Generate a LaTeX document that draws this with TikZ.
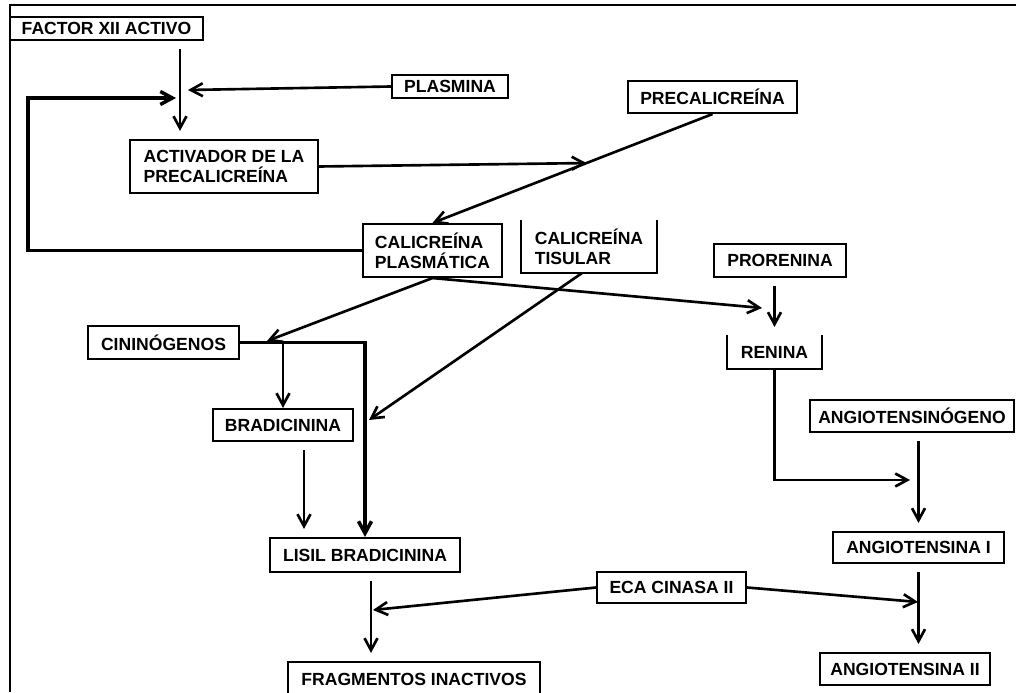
\documentclass[tikz,border=0pt]{standalone}
\usepackage{fontspec}
\setmainfont{Liberation Sans}
\usetikzlibrary{arrows.meta}
\usetikzlibrary{calc}

\tikzset{
        caja/.style={draw, line width=1.2pt, font=\fontsize{10}{11.5}\selectfont\bfseries,
                inner sep=0pt, minimum height=0.64cm, align=left},
        cajaabierta/.style={caja, draw=none},
        flecha/.style={-{Straight Barb[length=2.4mm,width=2.6mm]}, line width=1.5pt},
        gruesa/.style={line width=2pt},
        hueco/.style={shorten <=0.16cm, shorten >=0.16cm}
}

\begin{document}
\begin{tikzpicture}[x=0.02cm, y=-0.02cm]
        \useasboundingbox (0,0) rectangle (1016,692);
        \draw[line width=1pt] (1016,5) -| (10,692);

        \node[caja, minimum width=3.86cm, minimum height=0.46cm] (fxii) at (106.5,28.5) {FACTOR XII ACTIVO};
        \node[caja, minimum width=2.32cm, minimum height=0.46cm] (plas) at (450,86.5) {PLASMINA};
        \node[caja, minimum width=3.76cm, minimum height=1.06cm] (act) at (224,166.5) {ACTIVADOR DE LA\\PRECALICREÍNA};
        \node[caja, minimum width=3.38cm] (precal) at (712.5,97) {PRECALICREÍNA};
        \node[caja, minimum width=2.78cm, minimum height=1.06cm] (calp) at (432.5,250.5) {CALICREÍNA\\PLASMÁTICA};
        \node[cajaabierta, minimum width=2.68cm, minimum height=1.02cm] (calt) at (589,246.5) {CALICREÍNA\\TISULAR};
        \node[caja, minimum width=2.64cm, minimum height=0.66cm] (pror) at (780,260.5) {PRORENINA};
        \node[cajaabierta, minimum width=1.86cm] (ren) at (774.5,352) {RENINA};
        \node[caja, minimum width=3.02cm, minimum height=0.66cm] (cin) at (163.5,342.5) {CININÓGENOS};
        \node[caja, minimum width=2.80cm] (brad) at (283,425) {BRADICININA};
        \node[caja, minimum width=4.08cm] (angn) at (912,416) {ANGIOTENSINÓGENO};
        \node[caja, minimum width=3.80cm, minimum height=0.68cm] (lisil) at (365,555) {LISIL BRADICININA};
        \node[caja, minimum width=3.42cm, minimum height=0.62cm] (ang1) at (918.5,547.5) {ANGIOTENSINA I};
        \node[caja, minimum width=2.98cm, minimum height=0.62cm] (eca) at (671.5,587.5) {ECA CINASA II};
        \node[caja, minimum width=5.04cm, minimum height=0.68cm] (frag) at (414,679) {FRAGMENTOS INACTIVOS};
        \node[caja, minimum width=3.40cm] (ang2) at (905,669) {ANGIOTENSINA II};

        \draw[line width=1.2pt] (calt.north west) |- (calt.south east) -- (calt.north east);
        \draw[line width=1.2pt] (ren.north west) |- (ren.south east) -- (ren.north east);

        \coordinate (jfxii) at (180,90);
        \coordinate (jplas) at (188,90);
        \coordinate (jloop) at (176,98);
        \coordinate (esq) at (28,98);
        \coordinate (jcin) at (267,341);
        \coordinate (jren) at (762,308);
        \coordinate (jlis) at (369,420);
        \coordinate (jang) at (910,480);
        \coordinate (jfrag) at (373,610);
        \coordinate (jeca) at (918,602);
        \coordinate (mcal) at ($(precal.south)!0.45!(calp.north)$);

        \draw[flecha, hueco] (fxii.south -| jfxii) -- (act.north -| jfxii);
        \draw[flecha] (plas.west) -- (jplas);
        \draw[flecha, gruesa] (calp.west) -| (esq) -- (jloop);
        \draw[flecha] (act.east) -- (mcal);
        \draw[flecha] (precal.south) -- (calp.north);
        \draw[flecha] (calp.south) -- (jcin);
        \draw[flecha] (calp.south) -- (jren);
        \draw[flecha] ([xshift=-0.14cm]calt.south) -- (jlis);
        \draw[flecha, gruesa] (cin.east) -| (lisil.north);
        \draw[flecha] (cin.east -| brad.north) -- (brad.north);
        \draw[flecha, hueco] ([xshift=0.42cm]brad.south) -- ([xshift=0.42cm]brad.south |- lisil.north);
        \draw[flecha, hueco] (ren.north |- pror.south) -- (ren.north);
        \draw[flecha] (ren.south) |- (jang);
        \draw[flecha, hueco] (angn.south -| ang1.north) -- (ang1.north);
        \draw[flecha, hueco] ([xshift=0.12cm]lisil.south) -- ([xshift=0.12cm]lisil.south |- frag.north);
        \draw[flecha, hueco] (ang1.south) -- (ang1.south |- ang2.north);
        \draw[flecha] (eca.west) -- (jfrag);
        \draw[flecha] (eca.east) -- (jeca);
\end{tikzpicture}
\end{document}
